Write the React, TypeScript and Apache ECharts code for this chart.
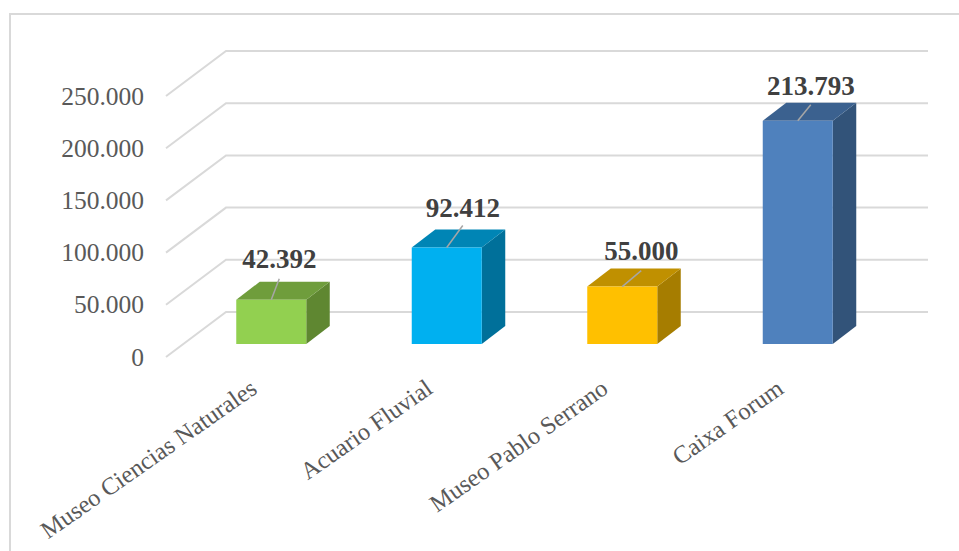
import React, { useEffect, useRef } from "react";
import * as echarts from "echarts";

const categories = ["Museo Ciencias Naturales", "Acuario Fluvial", "Museo Pablo Serrano", "Caixa Forum"];
const visitors = [42392, 92412, 55000, 213793];
const yTicks = [0, 50000, 100000, 150000, 200000, 250000];

const FONT = '"Liberation Serif", serif';
const FRONT = ["#92D050", "#00B0F0", "#FFC000", "#4F81BD"];
const TOP = ["#6F9D3C", "#0085B5", "#C09000", "#3B618F"];
const SIDE = ["#5F8731", "#00709A", "#A67D00", "#325379"];

// layout of the fake 3D view
const WALL_DX = 60;
const WALL_DY = -45;
const BAR_DX = 17.5;
const BAR_DY = -13;
const BAR_W = 70;
const DEPTH_DX = 23.5;
const DEPTH_DY = -18;
const LEADERS = [
  { dx: 8, dy: -21, labelDy: -27 },
  { dx: 16, dy: -22, labelDy: -26 },
  { dx: 19, dy: -16, labelDy: -22 },
  { dx: 13, dy: -16, labelDy: -21 },
];

const fmt = (v: number) => String(v).replace(/\B(?=(\d{3})+$)/g, ".");

export default function App() {
  const ref = useRef<HTMLDivElement>(null);
  useEffect(() => {
    const chart = echarts.init(ref.current!, null, { renderer: "svg" });
    chart.setOption({
      animation: false,
      backgroundColor: "#fff",
      graphic: [
        {
          type: "polyline",
          silent: true,
          shape: { points: [[10, 552], [10, 14], [960, 14]] },
          style: { stroke: "#D9D9D9", lineWidth: 2, fill: "none" },
        },
      ],
      grid: { left: 166, right: 91, top: 96, bottom: 194 },
      xAxis: {
        type: "category",
        data: categories,
        axisLine: { show: false },
        axisTick: { show: false },
        splitLine: { show: false },
        axisLabel: {
          interval: 0,
          rotate: 35,
          margin: 28,
          color: "#595959",
          fontFamily: FONT,
          fontSize: 24.5,
        },
      },
      yAxis: {
        type: "value",
        min: 0,
        max: 250000,
        interval: 50000,
        axisLine: { show: false },
        axisTick: { show: false },
        splitLine: { show: false },
        axisLabel: {
          margin: 22,
          color: "#595959",
          fontFamily: FONT,
          fontSize: 25.5,
          formatter: (v: number) => fmt(v),
        },
      },
      series: [
        {
          type: "custom",
          silent: true,
          z: 1,
          data: yTicks.map((v) => [0, v]),
          encode: { y: 1 },
          renderItem: (params: any, api: any) => {
            const cs = params.coordSys;
            const y = api.coord([0, api.value(1)])[1];
            return {
              type: "polyline",
              shape: {
                points: [
                  [cs.x, y],
                  [cs.x + WALL_DX, y + WALL_DY],
                  [cs.x + cs.width + WALL_DX, y + WALL_DY],
                ],
              },
              style: { stroke: "#D9D9D9", lineWidth: 2, fill: "none" },
            };
          },
        },
        {
          type: "custom",
          silent: true,
          z: 2,
          data: visitors.map((v, i) => [i, v]),
          encode: { x: 0, y: 1 },
          renderItem: (params: any, api: any) => {
            const i = params.dataIndex;
            const value = api.value(1);
            const c = api.coord([api.value(0), value]);
            const base = api.coord([api.value(0), 0]);
            const cx = c[0] + BAR_DX;
            const x0 = cx - BAR_W / 2;
            const x1 = cx + BAR_W / 2;
            const yT = c[1] + BAR_DY;
            const yB = base[1] + BAR_DY;
            const lead = LEADERS[i];
            return {
              type: "group",
              children: [
                {
                  type: "polygon",
                  shape: { points: [[x1, yT], [x1 + DEPTH_DX, yT + DEPTH_DY], [x1 + DEPTH_DX, yB + DEPTH_DY], [x1, yB]] },
                  style: { fill: SIDE[i] },
                },
                {
                  type: "polygon",
                  shape: { points: [[x0, yT], [x0 + DEPTH_DX, yT + DEPTH_DY], [x1 + DEPTH_DX, yT + DEPTH_DY], [x1, yT]] },
                  style: { fill: TOP[i] },
                },
                {
                  type: "rect",
                  shape: { x: x0, y: yT, width: BAR_W, height: yB - yT },
                  style: { fill: FRONT[i] },
                },
                {
                  type: "line",
                  shape: { x1: cx, y1: yT, x2: cx + lead.dx, y2: yT + lead.dy },
                  style: { stroke: "#A6A6A6", lineWidth: 1.5 },
                },
                {
                  type: "text",
                  style: {
                    x: cx + lead.dx,
                    y: yT + lead.labelDy,
                    text: fmt(value),
                    fill: "#404040",
                    font: `bold 27px ${FONT}`,
                    textAlign: "center",
                    textVerticalAlign: "bottom",
                  },
                },
              ],
            };
          },
        },
      ],
    });
    return () => chart.dispose();
  }, []);
  return <div ref={ref} style={{ position: "fixed", left: 0, top: 0, width: 959, height: 551 }} />;
}
